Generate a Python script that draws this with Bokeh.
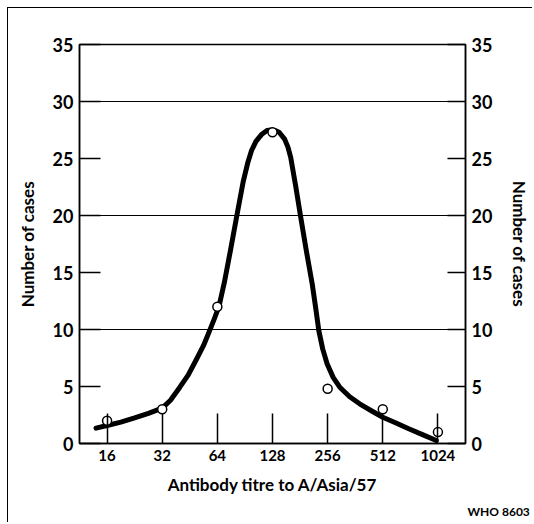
from bokeh.plotting import figure
from bokeh.models import LinearAxis, FixedTicker, Range1d, Title
from bokeh.embed import file_html
from bokeh.resources import INLINE

# Data
titre_labels = ["16", "32", "64", "128", "256", "512", "1024"]
titre_log2 = [4, 5, 6, 7, 8, 9, 10]
cases = [2, 3, 12, 27.3, 4.8, 3, 1]

# smooth curve drawn through the points
curve_x = [3.80, 4.00, 4.25, 4.50, 4.75, 5.00, 5.15, 5.32, 5.47, 5.61, 5.75, 5.86,
           5.95, 6.03, 6.13, 6.24, 6.35, 6.47, 6.55, 6.62, 6.70, 6.80, 6.90, 6.97,
           7.05, 7.12, 7.22, 7.28, 7.33, 7.42, 7.51, 7.61, 7.72, 7.78, 7.84, 7.91,
           7.99, 8.10, 8.22, 8.40, 8.58, 8.80, 9.00, 9.24, 9.47, 9.72, 9.97]
curve_y = [1.35, 1.58, 1.88, 2.25, 2.65, 3.10, 3.80, 4.94, 6.00, 7.28, 8.60, 9.90,
           11.0, 12.04, 14.2, 17.0, 19.9, 23.0, 24.6, 25.7, 26.5, 27.1, 27.45, 27.5,
           27.45, 27.3, 26.7, 26.0, 25.1, 22.6, 19.9, 17.0, 14.0, 12.0, 9.9, 8.3,
           7.0, 5.8, 4.94, 4.1, 3.48, 2.85, 2.3, 1.8, 1.29, 0.78, 0.26]

y_ticks = [0, 5, 10, 15, 20, 25, 30, 35]
grid_ticks = [10, 20, 30]

FONT = "Lato"

p = figure(width=525, height=515, output_backend="svg", toolbar_location=None,
           x_range=Range1d(3.5, 10.5), y_range=Range1d(0, 35),
           min_border_left=71, min_border_right=61, min_border_top=36,
           min_border_bottom=80, y_axis_location=None)
p.styles = {"margin-left": "7px", "margin-top": "7px",
            "border-left": "1.5px solid black", "border-top": "1.5px solid black"}
p.outline_line_color = "black"
p.outline_line_width = 1.5
p.background_fill_color = "white"
p.border_fill_color = "white"

# x axis
xa = p.xaxis[0]
xa.ticker = FixedTicker(ticks=titre_log2)
xa.major_label_overrides = {t: l for t, l in zip(titre_log2, titre_labels)}
xa.minor_tick_line_color = None
xa.major_tick_in = 30
xa.major_tick_out = 0
xa.major_tick_line_width = 1.5
xa.major_tick_line_color = "black"
xa.axis_line_width = 1.5
xa.axis_line_color = "black"
xa.major_label_text_font = FONT
xa.major_label_text_font_style = "bold"
xa.major_label_text_font_size = "15px"
xa.major_label_text_color = "black"
xa.major_label_standoff = 6
xa.axis_label = "Antibody titre to A/Asia/57"
xa.axis_label_text_font = FONT
xa.axis_label_text_font_style = "bold"
xa.axis_label_text_font_size = "17px"
xa.axis_label_text_color = "black"
xa.axis_label_standoff = 10

for side, tin, lstand in (("left", 21, 12), ("right", 18, 14)):
    ax = LinearAxis(ticker=FixedTicker(ticks=y_ticks))
    ax.minor_tick_line_color = None
    ax.major_tick_in = tin
    ax.major_tick_out = 0
    ax.major_tick_line_width = 1.5
    ax.major_tick_line_color = "black"
    ax.axis_line_width = 1.5
    ax.axis_line_color = "black"
    ax.major_label_text_font = FONT
    ax.major_label_text_font_style = "bold"
    ax.major_label_text_font_size = "18px"
    ax.major_label_text_color = "black"
    ax.major_label_standoff = 6
    ax.axis_label = "Number of cases"
    ax.axis_label_text_font = FONT
    ax.axis_label_text_font_style = "bold"
    ax.axis_label_text_font_size = "17px"
    ax.axis_label_text_color = "black"
    ax.axis_label_standoff = lstand
    p.add_layout(ax, side)

p.xgrid.visible = False
p.ygrid.ticker = FixedTicker(ticks=grid_ticks)
p.ygrid.grid_line_color = "black"
p.ygrid.grid_line_width = 1.2

p.line(curve_x, curve_y, line_width=5, line_color="black", line_join="round", line_cap="round")
p.scatter(titre_log2, cases, size=9, fill_color="white", line_color="black", line_width=1.5)

p.add_layout(Title(text="WHO 8603", align="left", offset=388, text_font=FONT,
                   text_font_style="bold", text_font_size="12px", text_color="black",
                   standoff=8), "below")

open("out.html", "w").write(file_html(p, INLINE))
